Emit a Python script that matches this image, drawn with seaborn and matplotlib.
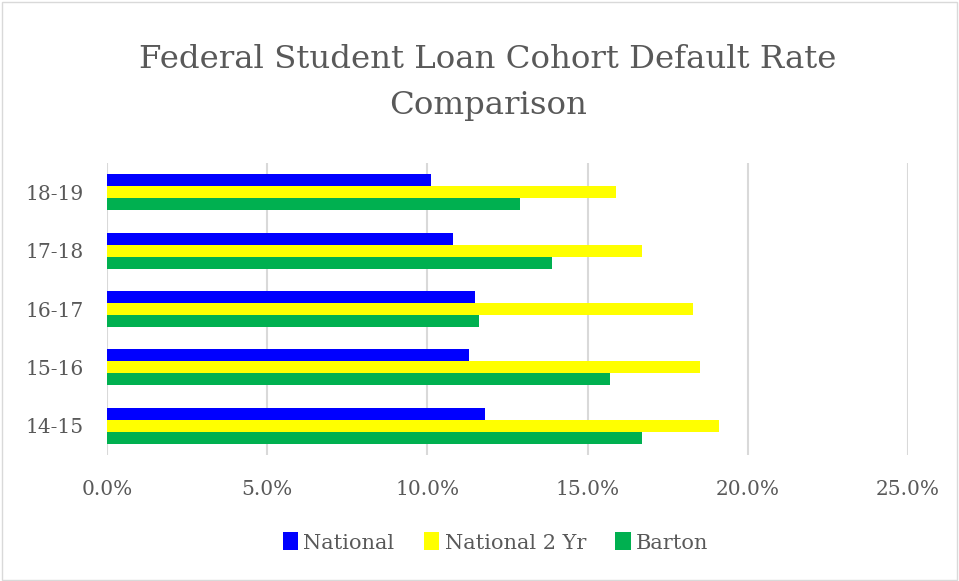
import matplotlib.pyplot as plt
import pandas as pd
import seaborn as sns
from matplotlib.patches import Rectangle
from matplotlib.ticker import PercentFormatter

# Cohort years, top to bottom as shown
cohorts = ['18-19', '17-18', '16-17', '15-16', '14-15']
series = ['National', 'National 2 Yr', 'Barton']

# Default rates (%)
national = [10.1, 10.8, 11.5, 11.3, 11.8]
national_2yr = [15.9, 16.7, 18.3, 18.5, 19.1]
barton = [12.9, 13.9, 11.6, 15.7, 16.7]

colors = ['#0000FF', '#FFFF00', '#00B050']
grey = '#595959'

# Long format for seaborn
df = pd.DataFrame({
    'cohort': cohorts * 3,
    'series': [s for s in series for _ in cohorts],
    'rate': national + national_2yr + barton,
})

sns.set_style('white')
plt.rcParams['font.family'] = ['DejaVu Serif']

fig = plt.figure(figsize=(9.59, 5.81), dpi=100)
ax = fig.add_axes([0.1116, 0.2169, 0.8352, 0.5025])

sns.barplot(data=df, x='rate', y='cohort', hue='series', order=cohorts,
            hue_order=series, palette=colors, saturation=1, orient='h',
            width=0.62, gap=0, edgecolor='none', linewidth=0, ax=ax)

ax.set_xlim(0, 25)
ax.set_xticks([0, 5, 10, 15, 20, 25])
ax.xaxis.set_major_formatter(PercentFormatter(decimals=1))
ax.grid(axis='x', color='#d9d9d9', linewidth=1.5)
ax.set_axisbelow(True)
for s in ax.spines.values():
    s.set_visible(False)
ax.set_xlabel('')
ax.set_ylabel('')
ax.tick_params(axis='both', length=0, labelsize=14.5, labelcolor=grey)
ax.tick_params(axis='x', pad=18)
ax.tick_params(axis='y', pad=16.5)

# Title
fig.text(0.509, 0.858, 'Federal Student Loan Cohort Default Rate\nComparison',
         ha='center', va='center', fontsize=23.3, color=grey, linespacing=1.65)

# Legend below the axes
ax.legend(loc='center', bbox_to_anchor=(0.485, -0.3), ncol=3, frameon=False,
          fontsize=15, labelcolor=grey, handlelength=0.75, handleheight=0.95,
          handletextpad=0.25, columnspacing=1.4)

# Chart border
fig.patches.append(Rectangle((0.002, 0.002), 0.996, 0.994, transform=fig.transFigure,
                             fill=False, edgecolor='#d9d9d9', linewidth=1))

fig.savefig('out.png', dpi=100)
